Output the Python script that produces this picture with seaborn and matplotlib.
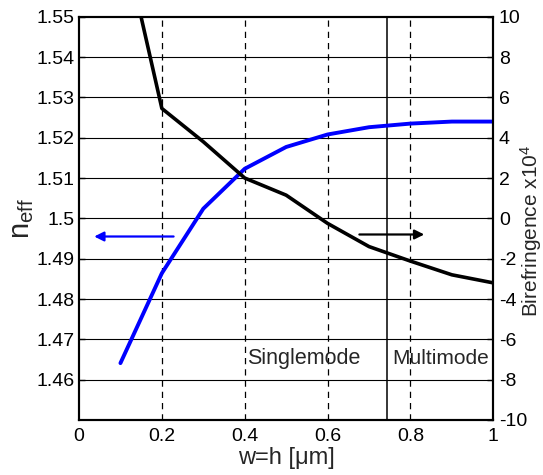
import numpy as np
import pandas as pd
import matplotlib
matplotlib.use("Agg")
import matplotlib.pyplot as plt
import seaborn as sns

# Data
width = [0.1, 0.2, 0.3, 0.4, 0.5, 0.6, 0.7, 0.8, 0.9, 1.0]
neff = [1.4641, 1.4864, 1.5024, 1.5123, 1.5177, 1.5208, 1.5226, 1.5235, 1.5240, 1.5240]
biref = [14.5, 5.45, 3.8, 2.0, 1.15, -0.25, -1.4, -2.12, -2.8, -3.2]
left_ticks = [1.46, 1.47, 1.48, 1.49, 1.5, 1.51, 1.52, 1.53, 1.54, 1.55]
left_ticklabels = ["1.46", "1.47", "1.48", "1.49", "1.5", "1.51", "1.52", "1.53", "1.54", "1.55"]
right_ticks = [-10, -8, -6, -4, -2, 0, 2, 4, 6, 8, 10]
x_ticks = [0, 0.2, 0.4, 0.6, 0.8, 1]
x_ticklabels = ["0", "0.2", "0.4", "0.6", "0.8", "1"]
cutoff = 0.743

sns.set_theme(style="white")
plt.rcParams['font.family'] = ['Liberation Sans', 'DejaVu Sans']
plt.rcParams['mathtext.fontset'] = 'custom'
plt.rcParams['mathtext.rm'] = 'Liberation Sans'
plt.rcParams['mathtext.it'] = 'Liberation Sans:italic'

fig = plt.figure(figsize=(5.43, 4.75), dpi=100)
ax = fig.add_axes([0.1455, 0.1158, 0.763, 0.849])
ax2 = ax.twinx()

df = pd.DataFrame({"w": width, "neff": neff, "biref": biref})

# grid
for t in left_ticks[:-1]:
    ax.axhline(t, color="black", lw=0.8, zorder=0)
for t in x_ticks[1:-1]:
    ax.axvline(t, color="black", lw=0.9, ls=(0, (5, 4)), zorder=0)
ax.axvline(cutoff, color="black", lw=1.1, zorder=1)

sns.lineplot(data=df, x="w", y="neff", ax=ax, color="#0000FF", lw=2.8, zorder=3)
sns.lineplot(data=df, x="w", y="biref", ax=ax2, color="black", lw=2.6, zorder=3)

ax.set_xlim(0, 1)
ax.set_ylim(1.45, 1.55)
ax2.set_ylim(-10, 10)
ax.set_xticks(x_ticks)
ax.set_xticklabels(x_ticklabels)
ax.set_yticks(left_ticks)
ax.set_yticklabels(left_ticklabels)
ax2.set_yticks(right_ticks)
ax2.set_yticklabels([str(t) for t in right_ticks])

for a in (ax, ax2):
    a.tick_params(direction="in", labelsize=14, colors="black", length=4, width=1)
    for s in a.spines.values():
        s.set_color("black")
        s.set_linewidth(1.5)
ax.tick_params(axis="x", pad=6)
ax2.tick_params(axis="y", pad=4)

ax.set_xlabel("w=h [μm]", fontsize=17, labelpad=1)
ax.set_ylabel(r"n$_{\mathrm{eff}}$", fontsize=21, labelpad=0)
ax2.set_ylabel(r"Birefringence x10$^4$", fontsize=15)
ax2.yaxis.set_label_coords(1.061, 0.47)

ax.text(0.405, 1.4652, "Singlemode", fontsize=15.5, va="center", ha="left")
ax.text(0.757, 1.4652, "Multimode", fontsize=15, va="center", ha="left")

ax.annotate("", xy=(0.03, 1.4955), xytext=(0.235, 1.4955),
            arrowprops=dict(arrowstyle="-|>", color="#0000FF", lw=1.6, mutation_scale=14))
ax2.annotate("", xy=(0.84, -0.8), xytext=(0.67, -0.8),
             arrowprops=dict(arrowstyle="-|>", color="black", lw=1.6, mutation_scale=14))

fig.savefig("out.png", dpi=100)
